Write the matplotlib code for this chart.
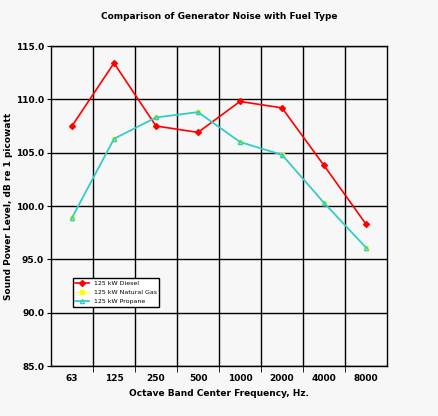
import matplotlib
matplotlib.use("Agg")
import matplotlib.pyplot as plt

freqs = ["63", "125", "250", "500", "1000", "2000", "4000", "8000"]
diesel = [107.5, 113.4, 107.5, 106.9, 109.8, 109.2, 103.8, 98.3]
natgas = [98.9, 106.3, 108.3, 108.8, 106.0, 104.8, 100.3, 96.1]
propane = [98.9, 106.3, 108.3, 108.8, 106.0, 104.8, 100.3, 96.1]
yticks = [85.0, 90.0, 95.0, 100.0, 105.0, 110.0, 115.0]

bg = "#f7f7f7"
fig = plt.figure(figsize=(4.38, 4.16), dpi=100, facecolor=bg)
ax = fig.add_axes([51/438, 50/416, 336/438, 320/416])
ax.set_facecolor(bg)
x = list(range(len(freqs)))
ax.plot(x, diesel, color="red", marker="D", ms=3, lw=1.2, label="125 kW Diesel")
ax.plot(x, natgas, color="yellow", marker="s", ms=3.5, lw=0.5, label="125 kW Natural Gas")
ax.plot(x, propane, color="#33cccc", marker="^", ms=3, lw=1.3, label="125 kW Propane",
        markerfacecolor="none")
ax.set_xlim(-0.5, 7.5)
ax.set_ylim(85, 115)
ax.set_yticks(yticks)
ax.set_yticklabels([f"{v:.1f}" for v in yticks], fontsize=6.5, fontweight="bold")
ax.tick_params(axis="y", pad=2, length=3)
ax.set_xticks(x)
ax.set_xticklabels(freqs, fontsize=6.5, fontweight="bold")
ax.set_xticks([i + 0.5 for i in range(7)], minor=True)
ax.tick_params(axis="x", which="major", length=0, pad=6)
ax.tick_params(axis="x", which="minor", length=4)
ax.grid(True, which="minor", axis="x", color="black", lw=1)
ax.grid(True, which="major", axis="y", color="black", lw=1)
for s in ax.spines.values():
    s.set_linewidth(1)
ax.set_xlabel("Octave Band Center Frequency, Hz.", fontsize=6.5, fontweight="bold")
ax.set_ylabel("Sound Power Level, dB re 1 picowatt", fontsize=6.5, fontweight="bold",
              labelpad=2)
fig.text(0.5, 0.955, "Comparison of Generator Noise with Fuel Type", ha="center",
         fontsize=6.5, fontweight="bold")
leg = ax.legend(loc="lower left", bbox_to_anchor=(0.055, 0.175), fontsize=4.5,
                fancybox=False, edgecolor="black", framealpha=1, facecolor="white",
                handlelength=2.2, borderpad=0.4, labelspacing=0.6)
fig.savefig("out.png", dpi=100, facecolor=bg)
